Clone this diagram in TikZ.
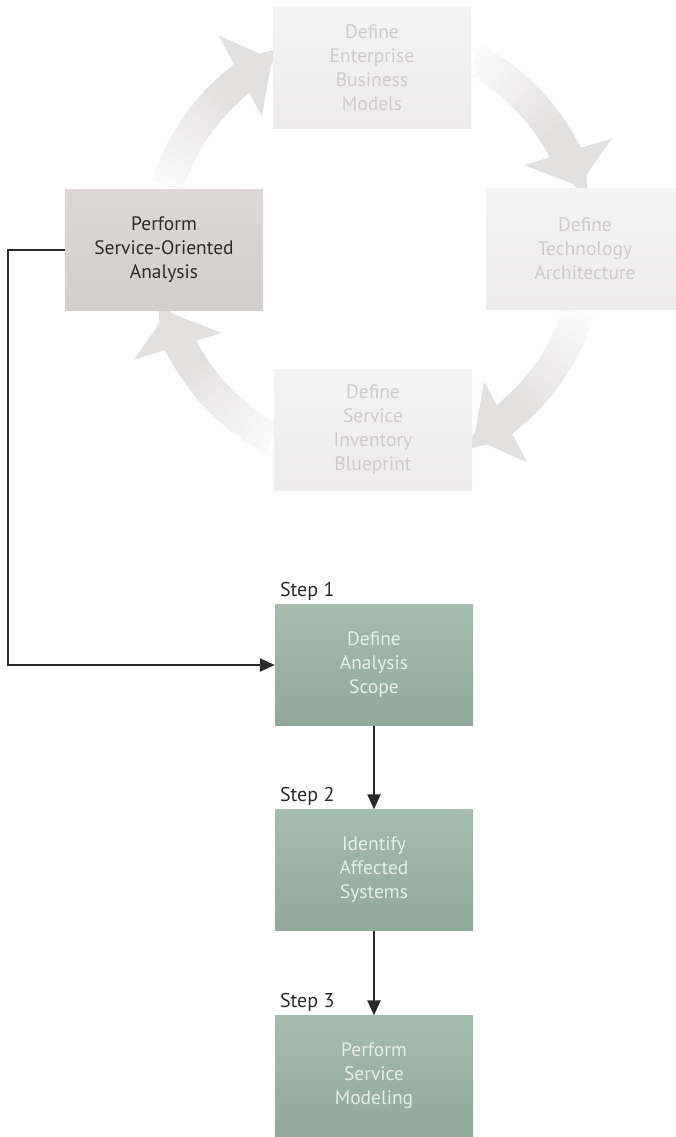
\documentclass[tikz,border=0pt]{standalone}
\usepackage{fontspec}
\setmainfont{PT Sans}
\usetikzlibrary{arrows.meta, positioning}

\definecolor{ringtop}{HTML}{F5F4F4}
\definecolor{ringbot}{HTML}{EDEBEB}
\definecolor{ringtext}{HTML}{CFCBCB}
\definecolor{ringgray}{HTML}{E3E0E0}
\definecolor{soatop}{HTML}{DDD8D6}
\definecolor{soabot}{HTML}{D3CECC}
\definecolor{soatext}{HTML}{302C2C}
\definecolor{steptop}{HTML}{A5BDAF}
\definecolor{stepbot}{HTML}{91A99A}
\definecolor{steptext}{HTML}{E8EEEA}
\definecolor{linegray}{HTML}{2A2A2A}

\tikzset{
  boxbase/.style={minimum width=198pt, minimum height=121pt, text width=190pt,
    align=center, inner sep=0pt, font=\fontsize{19.5}{24}\selectfont},
  ringbox/.style={boxbase, top color=ringtop, bottom color=ringbot, text=ringtext},
  soabox/.style={boxbase, top color=soatop, bottom color=soabot, text=soatext},
  stepbox/.style={boxbase, top color=steptop, bottom color=stepbot, text=steptext},
  steplabel/.style={inner sep=0pt, anchor=south west, text=linegray,
    font=\fontsize{20}{24}\selectfont},
  ringarc/.style={line width=32pt, ringgray},
  flowline/.style={line width=2.4pt, linegray, -{Triangle[length=15pt,width=13pt]}},
}

\begin{document}
\begin{tikzpicture}[x=1pt,y=1pt]
  \useasboundingbox (0,0) rectangle (676,-1137);
  \clip (0,0) rectangle (676,-1137);
  \def\rad{215}
  \coordinate (ctr) at (373,-249);
  % curved arrows of the cycle, faded at the tail
  \foreach \a in {163,62,-17,-118}{
    \foreach \k in {0,...,14}{
      \pgfmathtruncatemacro{\shade}{15+\k*6}
      \draw[ringarc, draw=ringgray!\shade!white]
        ([shift={(\a-\k*2:\rad)}]ctr) arc[start angle=\a-\k*2, end angle=\a-\k*2-2.6, radius=\rad pt];
    }
    \draw[ringarc, -{Triangle[width=90pt,length=36pt]}]
      ([shift={(\a-30:\rad)}]ctr) arc[start angle=\a-30, end angle=\a-45, radius=\rad pt];
  }
  % cycle boxes
  \node[ringbox] (enterprise) at (372,-68)  {Define\\Enterprise\\Business\\Models};
  \node[soabox]  (perform)    at (164,-250) {Perform\\Service-Oriented\\Analysis};
  \node[ringbox] (techarch)   at (585,-249) {Define\\Technology\\Architecture};
  \node[ringbox] (blueprint)  at (373,-430) {Define\\Service\\Inventory\\Blueprint};
  % analysis steps
  \node[stepbox] (scope)    at (374,-665)  {Define\\Analysis\\Scope};
  \node[stepbox] (affected) at (374,-870)  {Identify\\Affected\\Systems};
  \node[stepbox] (modeling) at (374,-1076) {Perform\\Service\\Modeling};
  \node[steplabel] (lbl1) at ([shift={(5,4)}]scope.north west)    {Step 1};
  \node[steplabel] (lbl2) at ([shift={(5,4)}]affected.north west) {Step 2};
  \node[steplabel] (lbl3) at ([shift={(5,4)}]modeling.north west) {Step 3};
  % connectors
  \coordinate (elbow) at (8,-250);
  \draw[flowline] (perform.west) -- (elbow) |- (scope.west);
  \draw[flowline] (scope.south) -- (affected.north);
  \draw[flowline] (affected.south) -- (modeling.north);
\end{tikzpicture}
\end{document}
